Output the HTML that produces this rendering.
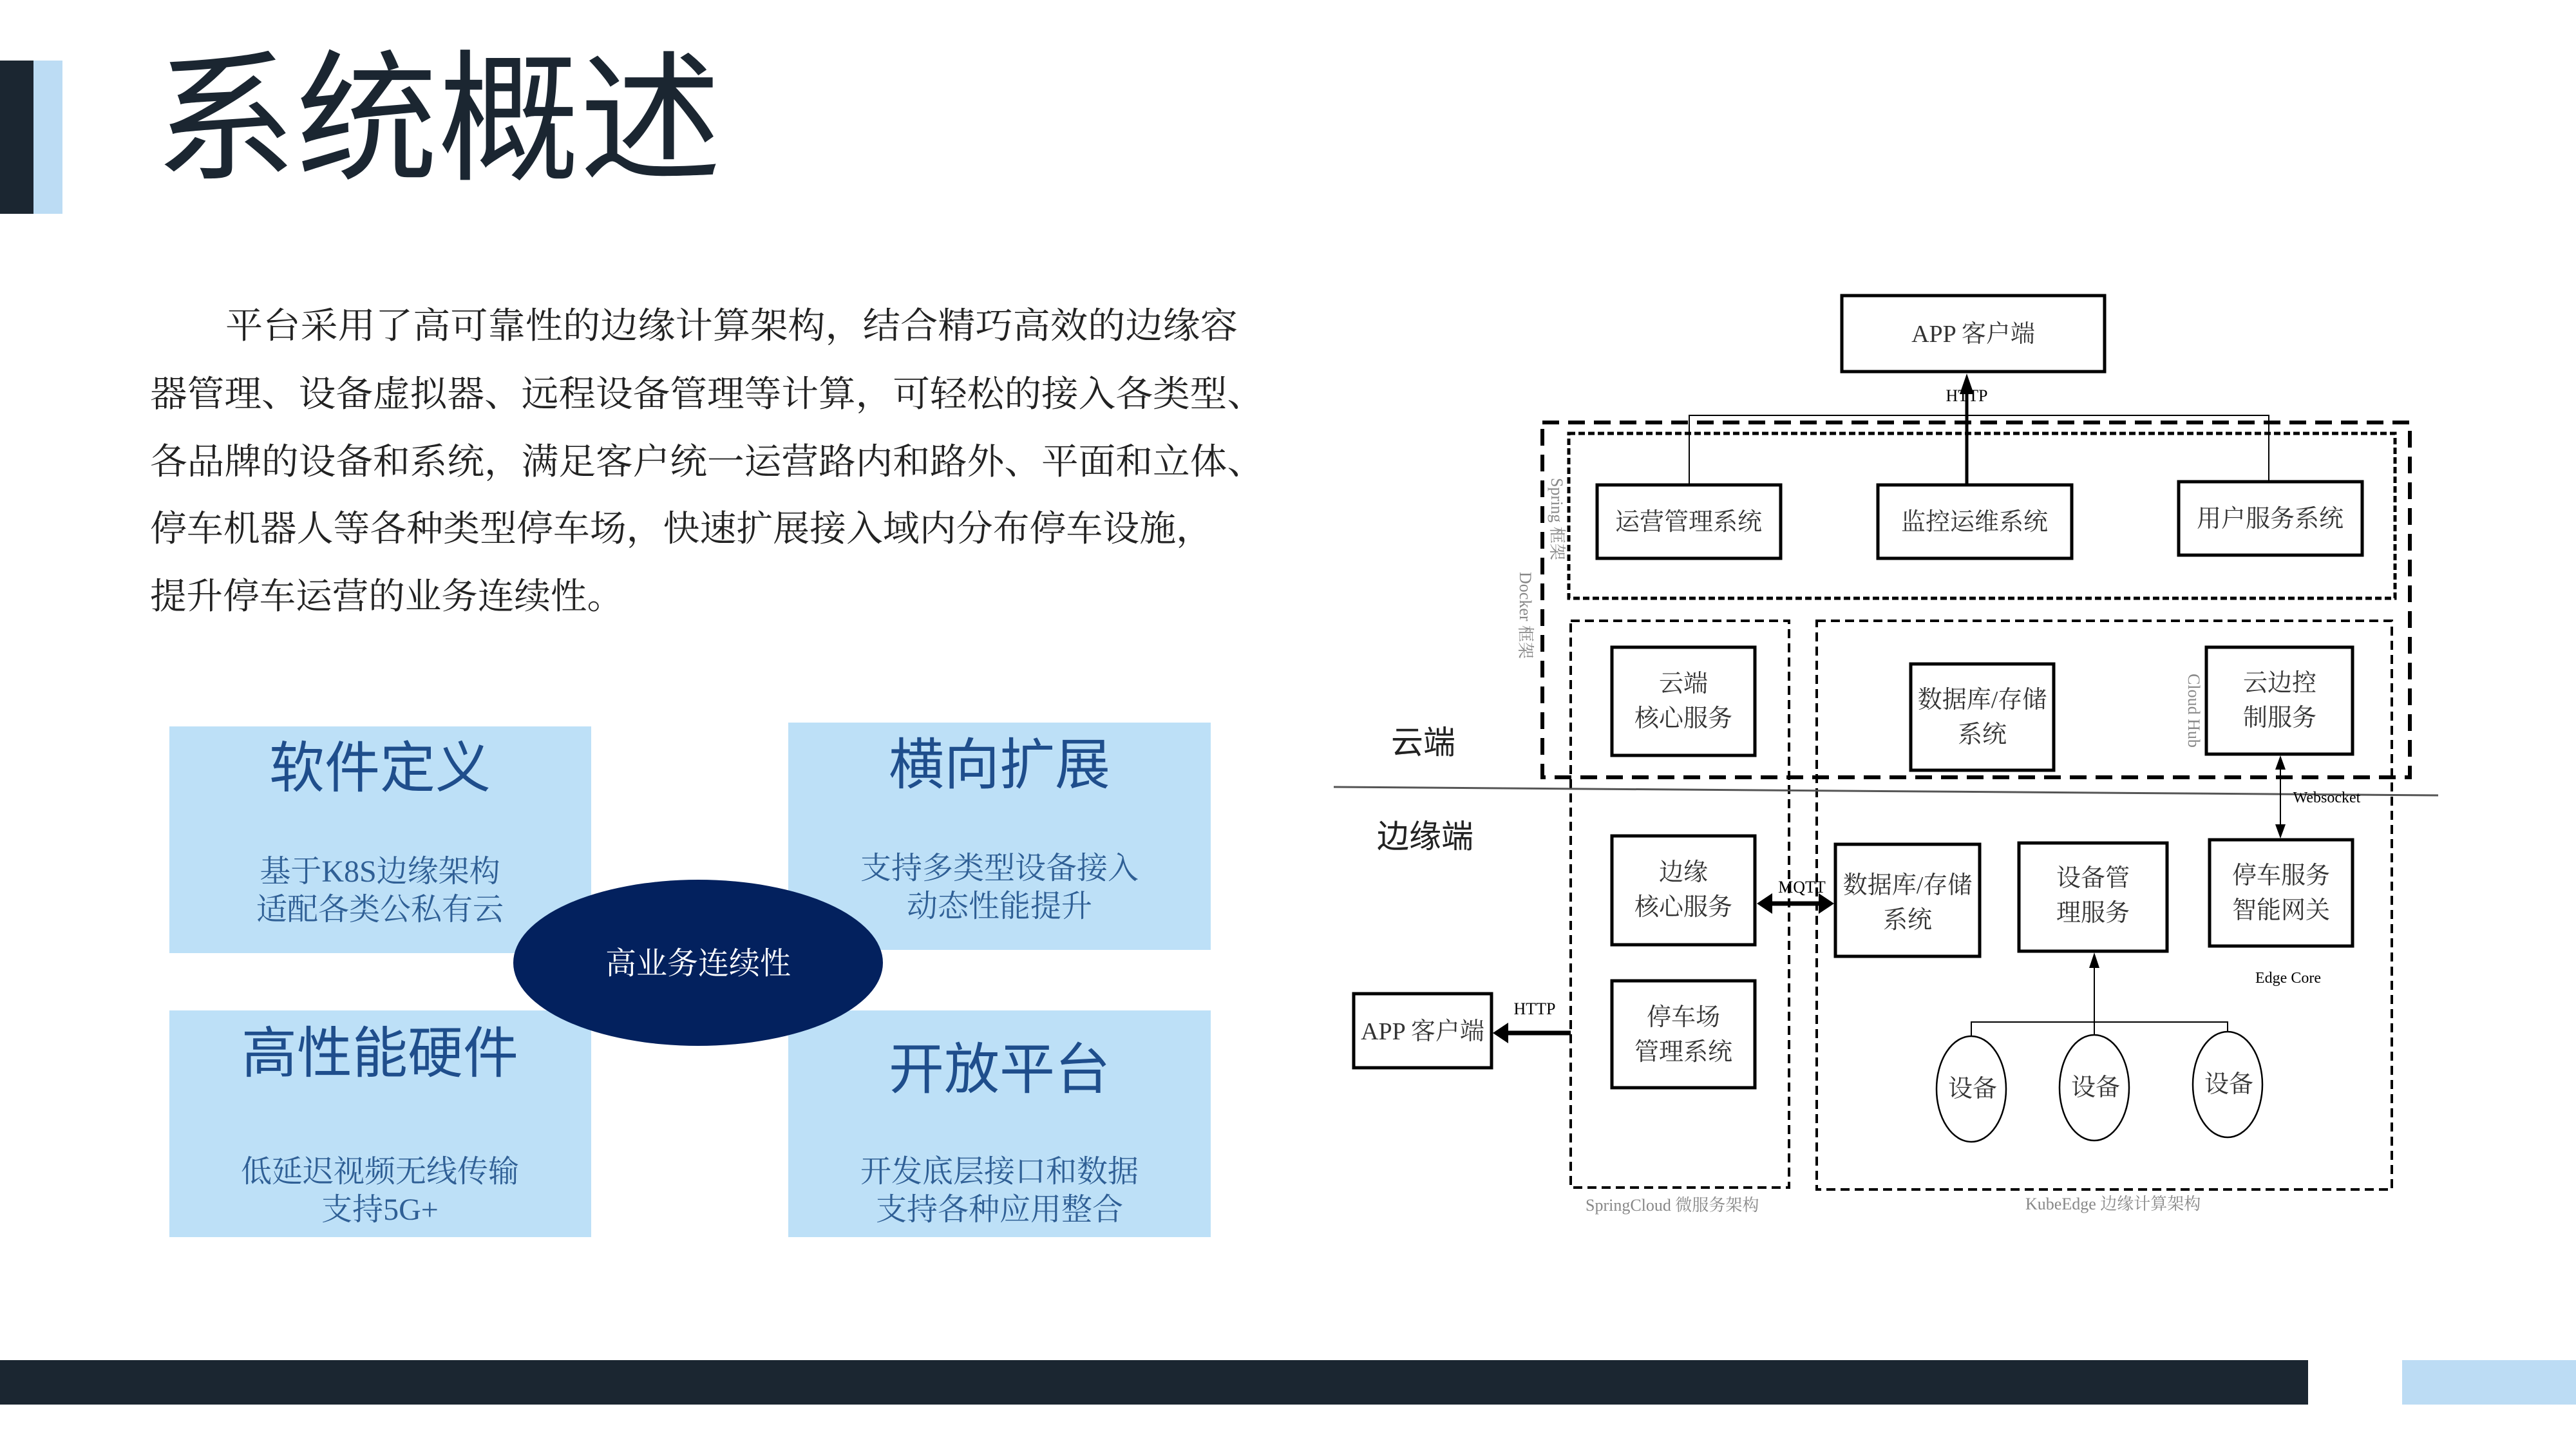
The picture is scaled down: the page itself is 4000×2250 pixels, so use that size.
<!DOCTYPE html>
<html><head><meta charset="utf-8"><style>
html,body{margin:0;padding:0;background:#fff}
svg{display:block}
.s{font-family:"Liberation Sans","Noto Sans CJK SC",sans-serif}
.r{font-family:"Liberation Serif","Noto Serif CJK SC",serif}
</style></head><body>
<svg width="4000" height="2250" viewBox="0 0 4000 2250" xmlns="http://www.w3.org/2000/svg">
<rect width="4000" height="2250" fill="#fff"/>
<!-- header -->
<rect x="0" y="94" width="52" height="238" fill="#1b2631"/>
<rect x="52" y="94" width="45" height="238" fill="#bcdcf4"/>
<text x="240" y="262" class="s" font-size="220" fill="#1b2631">系统概述</text>
<!-- paragraph -->
<g class="r" font-size="56" fill="#222">
<text x="350" y="525" textLength="1572" lengthAdjust="spacingAndGlyphs">平台采用了高可靠性的边缘计算架构，结合精巧高效的边缘容</text>
<text x="233" y="631" textLength="1730" lengthAdjust="spacingAndGlyphs">器管理、设备虚拟器、远程设备管理等计算，可轻松的接入各类型、</text>
<text x="233" y="736" textLength="1730" lengthAdjust="spacingAndGlyphs">各品牌的设备和系统，满足客户统一运营路内和路外、平面和立体、</text>
<text x="233" y="840" textLength="1650" lengthAdjust="spacingAndGlyphs">停车机器人等各种类型停车场，快速扩展接入域内分布停车设施，</text>
<text x="233" y="945" textLength="735" lengthAdjust="spacingAndGlyphs">提升停车运营的业务连续性。</text>
</g>
<!-- blue boxes -->
<g fill="#bde0f7">
<rect x="263" y="1128" width="655" height="352"/>
<rect x="1224" y="1122" width="656" height="353"/>
<rect x="263" y="1569" width="655" height="352"/>
<rect x="1224" y="1569" width="656" height="352"/>
</g>
<g class="s" font-size="86" fill="#1f4e8c" text-anchor="middle">
<text x="590" y="1222">软件定义</text>
<text x="1552" y="1217">横向扩展</text>
<text x="590" y="1665">高性能硬件</text>
<text x="1552" y="1690">开放平台</text>
</g>
<g class="r" font-size="48" fill="#2f5f95" text-anchor="middle">
<text x="590" y="1369">基于K8S边缘架构</text>
<text x="590" y="1428">适配各类公私有云</text>
<text x="1552" y="1364">支持多类型设备接入</text>
<text x="1552" y="1423">动态性能提升</text>
<text x="590" y="1835">低延迟视频无线传输</text>
<text x="590" y="1894">支持5G+</text>
<text x="1552" y="1835">开发底层接口和数据</text>
<text x="1552" y="1894">支持各种应用整合</text>
</g>
<ellipse cx="1084" cy="1495" rx="287" ry="129" fill="#03215e"/>
<text x="1084" y="1512" class="r" font-size="48" fill="#fff" text-anchor="middle">高业务连续性</text>
<!-- bottom bars -->
<rect x="0" y="2112" width="3584" height="69" fill="#1b2631"/>
<rect x="3730" y="2112" width="270" height="69" fill="#bcdcf4"/>

<!-- diagram -->
<defs>
<marker id="ar" markerWidth="8" markerHeight="8" refX="7" refY="4" orient="auto" markerUnits="strokeWidth"><path d="M0,0 L8,4 L0,8 z" fill="#000"/></marker>
<marker id="ar2" markerWidth="10" markerHeight="10" refX="9" refY="5" orient="auto" markerUnits="userSpaceOnUse"><path d="M0,0 L10,5 L0,10 z" fill="#000"/></marker>
<marker id="big" markerWidth="26" markerHeight="30" refX="24" refY="15" orient="auto" markerUnits="userSpaceOnUse"><path d="M0,0 L26,15 L0,30 z" fill="#000"/></marker>
</defs>
<g fill="none" stroke="#000">
<!-- dashed containers -->
<rect x="2395" y="656" width="1347" height="551" stroke-width="6" stroke-dasharray="26,14"/>
<rect x="2436" y="673" width="1283" height="256" stroke-width="5" stroke-dasharray="10,5"/>
<rect x="2439" y="964" width="339" height="880" stroke-width="4" stroke-dasharray="14,8"/>
<rect x="2821" y="964" width="893" height="883" stroke-width="4" stroke-dasharray="14,8"/>
<!-- solid boxes -->
<g stroke-width="5">
<rect x="2860" y="459" width="408" height="118"/>
<rect x="2480" y="753" width="285" height="114"/>
<rect x="2916" y="753" width="301" height="114"/>
<rect x="3383" y="748" width="285" height="114"/>
<rect x="2503" y="1005" width="222" height="168"/>
<rect x="2967" y="1031" width="222" height="165"/>
<rect x="3426" y="1005" width="227" height="166"/>
<rect x="2503" y="1298" width="222" height="169"/>
<rect x="2503" y="1523" width="222" height="166"/>
<rect x="2850" y="1311" width="224" height="174"/>
<rect x="3135" y="1309" width="230" height="168"/>
<rect x="3431" y="1304" width="222" height="165"/>
<rect x="2102" y="1543" width="214" height="115"/>
</g>
<!-- connectors -->
<path d="M2623,753 V645 H3523 V748" stroke-width="2"/>
<line x1="3054" y1="753" x2="3054" y2="600" stroke-width="5"/>
<path d="M3054,580 l-11,32 h22 z" fill="#000" stroke="none"/>
<line x1="2071" y1="1222" x2="3786" y2="1235" stroke="#555" stroke-width="3"/>
<line x1="3541" y1="1192" x2="3541" y2="1283" stroke-width="2"/>
<path d="M3541,1173 l-8,22 h16 z M3541,1302 l-8,-22 h16 z" fill="#000" stroke="none"/>
<line x1="2750" y1="1403" x2="2826" y2="1403" stroke-width="7"/>
<path d="M2728,1403 l24,-16 v32 z M2848,1403 l-24,-16 v32 z" fill="#000" stroke="none"/>
<line x1="2439" y1="1604" x2="2340" y2="1604" stroke-width="7"/>
<path d="M2318,1604 l24,-16 v32 z" fill="#000" stroke="none"/>
<path d="M3061,1609 V1587 H3459 V1602" stroke-width="2"/>
<line x1="3252" y1="1607" x2="3252" y2="1500" stroke-width="2"/>
<path d="M3252,1479 l-8,24 h16 z" fill="#000" stroke="none"/>
<g stroke-width="2.5">
<ellipse cx="3061" cy="1691" rx="54" ry="82"/>
<ellipse cx="3252" cy="1689" rx="54" ry="82"/>
<ellipse cx="3459" cy="1684" rx="54" ry="82"/>
</g>
</g>
<g class="r" fill="#333" font-size="38" text-anchor="middle">
<text x="3064" y="531">APP 客户端</text>
<text x="2622" y="823">运营管理系统</text>
<text x="3066" y="823">监控运维系统</text>
<text x="3525" y="818">用户服务系统</text>
<text x="2614" y="1074">云端</text>
<text x="2614" y="1128">核心服务</text>
<text x="3078" y="1099">数据库/存储</text>
<text x="3078" y="1153">系统</text>
<text x="3540" y="1073">云边控</text>
<text x="3540" y="1127">制服务</text>
<text x="2614" y="1367">边缘</text>
<text x="2614" y="1421">核心服务</text>
<text x="2614" y="1592">停车场</text>
<text x="2614" y="1646">管理系统</text>
<text x="2962" y="1387">数据库/存储</text>
<text x="2962" y="1441">系统</text>
<text x="3250" y="1376">设备管</text>
<text x="3250" y="1430">理服务</text>
<text x="3542" y="1372">停车服务</text>
<text x="3542" y="1426">智能网关</text>
<text x="2209" y="1614">APP 客户端</text>
<text x="3063" y="1703">设备</text>
<text x="3254" y="1701">设备</text>
<text x="3461" y="1696">设备</text>
</g>
<g class="r" fill="#000" font-size="26" text-anchor="middle">
<text x="3054" y="623">HTTP</text>
<text x="2798" y="1386">MQTT</text>
<text x="2383" y="1575">HTTP</text>
<text x="3613" y="1246" font-size="24">Websocket</text>
<text x="3553" y="1526" font-size="24">Edge Core</text>
</g>
<g class="s" fill="#222" font-size="50">
<text x="2160" y="1170">云端</text>
<text x="2138" y="1316">边缘端</text>
</g>
<g class="r" fill="#888" font-size="26">
<text x="2462" y="1880">SpringCloud 微服务架构</text>
<text x="3145" y="1878">KubeEdge 边缘计算架构</text>
<text transform="translate(2409,742) rotate(90)">Spring 框架</text>
<text transform="translate(2360,888) rotate(90)">Docker 框架</text>
<text transform="translate(3398,1046) rotate(90)">Cloud Hub</text>
</g>
</svg>
</body></html>
